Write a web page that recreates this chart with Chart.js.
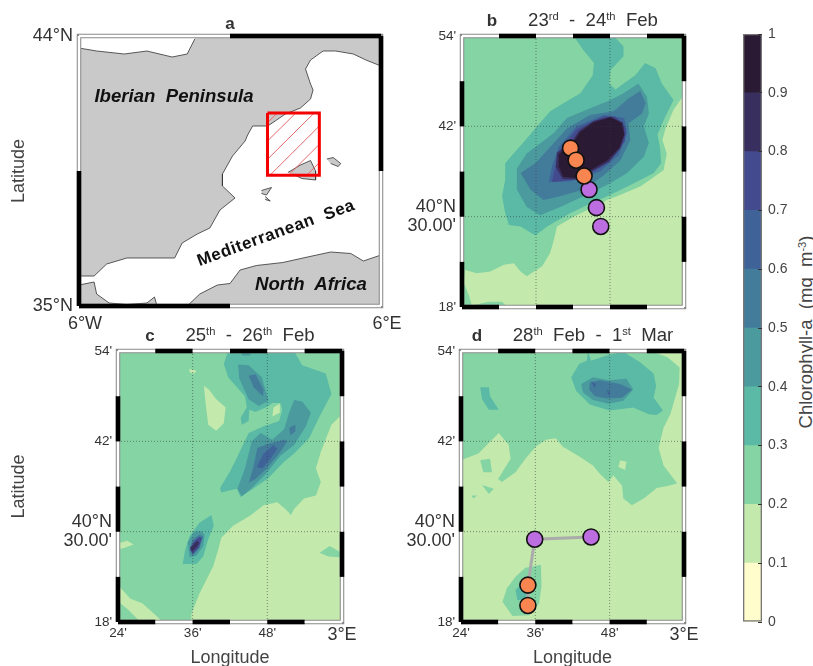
<!DOCTYPE html>
<html>
<head>
<meta charset="utf-8">
<title>Chlorophyll-a maps</title>
<script src="https://cdn.jsdelivr.net/npm/chart.js@4"></script>
<style>
    body { margin: 0; background: #fff; width: 813px; height: 666px; overflow: hidden; font-family: "Liberation Sans", Arial, sans-serif; }
    canvas { position: absolute; filter: blur(0.4px); }
    .txt { position: absolute; white-space: pre; transform: translate(-50%, -50%); color: #333; }
    .txt sup { font-size: 60%; line-height: 0; vertical-align: 0.55em; }
    .tag { font-weight: bold; font-size: 17px; }
    .ttl { font-size: 18.6px; }
    .place { font-weight: bold; font-style: italic; color: #111; }
</style>
</head>
<body>
<canvas id="mapA"></canvas>
<canvas id="mapB"></canvas>
<canvas id="mapC"></canvas>
<canvas id="mapD"></canvas>
<canvas id="scaleBar"></canvas>

<div class="txt tag" style="left:230px;top:24px">a</div>
<div class="txt tag" style="left:492px;top:21px">b</div>
<div class="txt ttl" style="left:593px;top:20px">23<sup>rd</sup>  -  24<sup>th</sup>  Feb</div>
<div class="txt tag" style="left:150px;top:336px">c</div>
<div class="txt ttl" style="left:250px;top:335px">25<sup>th</sup>  -  26<sup>th</sup>  Feb</div>
<div class="txt tag" style="left:477px;top:336px">d</div>
<div class="txt ttl" style="left:593px;top:335px">28<sup>th</sup>  Feb  -  1<sup>st</sup>  Mar</div>
<div class="txt place" style="left:174px;top:96px;font-size:18.6px">Iberian  Peninsula</div>
<div class="txt place" style="left:311px;top:284px;font-size:18.6px">North  Africa</div>
<div class="txt" style="left:276px;top:233px;font-weight:bold;font-size:17px;color:#111;letter-spacing:0.6px;transform:translate(-50%,-50%) rotate(-20deg)">Mediterranean  Sea</div>
<div class="txt" style="left:806px;top:332px;font-size:18.5px;color:#444;transform:translate(-50%,-50%) rotate(-90deg)">Chlorophyll-a  (mg  m<sup>-3</sup>)</div>

<script>
// chlorophyll classes, 0 to 1 in steps of 0.1
const levelEdges = [0, 0.1, 0.2, 0.3, 0.4, 0.5, 0.6, 0.7, 0.8, 0.9, 1];
const levelColors = ["#FFFDCB", "#C4E9AC", "#85D4A3", "#5ABAA5", "#4A9A9E", "#437C9B", "#3F6399", "#434A8E", "#392F5F", "#2B1A33"];
const scaleTicks = [0, 0.1, 0.2, 0.3, 0.4, 0.5, 0.6, 0.7, 0.8, 0.9, 1];

// axis stops, longitude and latitude
const aLonTicks = [-6, 6];
const aLatTicks = [35, 44];
const aLonStops = [-6, 0, 6];
const aLatStops = [35, 39.5, 44];
const lonTicks = [24, 36, 48, 60];
const latTicks = [18, 30, 42, 54];
const lonStops = [24, 30, 36, 42, 48, 54, 60];
const latStops = [18, 24, 30, 36, 42, 48, 54];
const gridLons = [36, 48];
const gridLats = [30, 42];

// panel a coastlines, degrees
const iberia = [[-1.4,44],[6,44],[6,43],[5.4,43.2],[4.9,43.4],[4.2,43.5],[3.7,43.5],[3.2,43.2],[3,42.9],[3.2,42.4],[3.3,42.2],[3.2,41.9],[2.8,41.6],[2.2,41.4],[1.5,41],[0.9,41],[0.7,40.7],[0.6,40.5],[0.1,40],[-0.3,39.4],[-0.3,39],[0.2,38.6],[-0.4,38.2],[-0.8,37.6],[-1.3,37.4],[-1.9,37.1],[-2.2,36.6],[-2.9,36.6],[-4.1,36.6],[-4.9,36.4],[-5.4,36],[-5.6,36],[-6,36],[-6,43.6],[-5.3,43.5],[-4.2,43.4],[-3.3,43.5],[-2.3,43.3],[-1.7,43.4],[-1.4,43.9]];
const africa = [[-6,35.7],[-5.4,35.8],[-5.3,35.4],[-4.8,35.1],[-4.1,35.05],[-3.3,35.1],[-3,35.3],[-2.9,35],[-1.7,35],[-1.2,35.4],[-0.5,35.7],[0,35.75],[0.4,36.2],[1.05,36.35],[2.1,36.45],[2.9,36.6],[4,36.8],[4.8,36.75],[5.3,36.5],[6,36.7],[6,35],[-6,35]];
const mallorca = [[2.3,39.45],[2.8,39.7],[3.2,39.85],[3.4,39.5],[3.4,39.2],[2.85,39.25],[2.5,39.4]];
const menorca = [[3.85,39.9],[4.1,39.95],[4.4,39.75],[4.3,39.65],[4,39.75]];
const ibiza = [[1.25,38.85],[1.65,38.95],[1.45,38.7],[1.25,38.75]];
const formentera = [[1.4,38.65],[1.6,38.5],[1.4,38.55]];
const studyBox = [[1.49,41.43],[3.55,41.43],[3.55,39.36],[1.49,39.36],[1.49,41.43]];
const hatchLines = [
    [[1.49,41.11],[1.88,41.43]],
    [[1.49,40.5],[2.61,41.43]],
    [[1.49,39.89],[3.34,41.43]],
    [[1.59,39.36],[3.55,41]],
    [[2.32,39.36],[3.55,40.39]],
    [[3.05,39.36],[3.55,39.78]]
];

// panel b contours, minutes of 2E and 40N
const bLight = [[60,46.2],[58.3,44.2],[57,41.7],[56.5,40.2],[57.2,38.4],[56.7,36.2],[54.5,34.9],[52.9,34],[49.7,32.9],[47.5,32.2],[44.8,31.1],[42.1,30],[39.4,28.7],[38.9,26.9],[38.3,25.2],[37,23.4],[34.5,22.1],[33.5,22.7],[32.4,23.8],[30.8,23.6],[28.6,22.7],[26.4,22.5],[24.5,22.9],[24.3,21.2],[25.1,19.6],[25.6,18.2],[28.3,18.7],[30.5,18.7],[31.3,18],[60,18]];
const bL3 = [[42.1,54],[43.7,52.1],[45.4,50.4],[45.2,48.8],[43.2,46.4],[40.5,45.1],[38.3,44],[36.4,42.2],[34.3,40.2],[32.9,38.9],[31,37.1],[31,34.9],[30.5,32.7],[31,30.5],[31.6,28.9],[33.5,28.7],[35.9,27.5],[37.8,28.7],[41.6,30.5],[44.8,31.7],[48.1,32.9],[51.8,34.4],[55.1,35.8],[56.3,37.1],[56.1,39.3],[55.7,40.9],[56.7,42.8],[58.3,45.5],[56.4,47.7],[55.4,49.7],[53.7,50.4],[52.1,48.8],[50.2,47.7],[48.9,46.9],[47.9,47.7],[48.1,49.5],[50.2,51.3],[50.2,52.6],[48.6,54]];
const bL4 = [[32.9,36.4],[34.5,38.4],[38.9,41.1],[41,43.1],[44.8,44.4],[48.1,45.5],[50.2,46.4],[52.6,47.7],[54,45.9],[54.3,43.7],[53.5,42],[54.3,39.8],[53.5,38],[50.8,35.8],[47.5,34.2],[43.7,32.7],[39.9,31.3],[36.7,30.2],[34.5,31.3],[32.9,33.6]];
const bL5 = [[33.5,35.8],[35.9,37.1],[38.9,39.8],[41,41.7],[44.8,43.5],[48.6,44],[51,45.7],[52.9,46.7],[53.8,45.1],[53.2,43.7],[51,42.4],[51.3,40.2],[49.7,37.5],[47,35.5],[43.7,33.6],[39.9,32.7],[37.2,32.2],[35.1,33.6]];
const bL6 = [[38.1,34.6],[38.6,36.7],[39.7,39.3],[42.6,42],[47,43.5],[50.3,43.1],[50.8,41.1],[49.4,38.2],[46.4,36],[41.6,34.7]];
const bL7 = [[38.6,34.6],[39,36.2],[39.7,38.6],[42.6,41.6],[47,43.3],[48.9,43.3],[50.6,41.7],[50.4,40],[47.8,37.2],[43.7,35.2],[40.2,34.7]];
const bL8 = [[39.2,36.6],[39.4,38.5],[41.9,40.1],[43,41.4],[45.3,42.7],[48.1,43.3],[50.1,42.5],[50.4,40.9],[49.7,39.1],[47.8,37.3],[45,36],[42.8,34.9],[40.3,35]];
const bL9 = [[39.6,36.8],[39.7,38.3],[42,39.8],[43.1,41.2],[45.3,42.5],[48.1,43.2],[49.9,42.4],[50.3,40.9],[49.5,39.2],[47.6,37.5],[44.9,36.2],[42.7,35.1],[40.4,35.3]];
const bOrangeLon = [41.6, 42.5, 43.8];
const bOrangeLat = [39.1, 37.5, 35.4];
const bPurpleLon = [44.6, 45.8, 46.5];
const bPurpleLat = [33.6, 31.2, 28.7];

// panel c contours
const cLight = [[60,45.6],[58.3,44.2],[56.6,40.6],[55.8,38.4],[56.6,36.6],[55.8,34.8],[53.9,34.4],[52.3,33],[51.8,32.2],[50.9,33],[49.6,33.9],[47.4,33.5],[45.2,32.1],[42.5,30.8],[40.6,29.2],[40.1,27.6],[39.3,25.4],[38.2,23.6],[37.1,21.8],[35.8,19.1],[35.8,18],[60,18]];
const cLightSw = [[24,22.9],[26,21.1],[27.9,20.5],[29.8,19.1],[31.2,18],[27.6,18],[25.7,19.6],[24.1,20.7]];
const cLightIsle = [[37.8,49.4],[38.6,48.9],[39.8,47.6],[41.3,46.5],[41,44.4],[39.8,43.4],[38.5,44.2],[38.1,46.9]];
const cLightDot = [[35.4,51.6],[36.6,51.4],[36.3,51],[35.6,51.1]];
const cLightWest = [[24.2,28.5],[25.5,28.8],[26.5,28.3],[25.2,27.9],[24.4,27.7]];
const cLightSpot = [[49,46.5],[50,47],[50,45.8],[48.8,45.3]];
const cGreenSliver = [[56.4,27.2],[58,28.1],[59.9,27.2],[59.6,26.6],[57.8,26.7]];
const cL3 = [[41.7,54],[52.3,54],[53.6,52.1],[57.4,51],[58.3,48.3],[56.4,45.3],[54.7,42.4],[52.3,40.4],[50.7,39.3],[48,37],[45,35.3],[43.7,34.6],[43.1,35.7],[40.6,35.2],[40.4,35.8],[42,38],[43.2,40],[45,43.1],[47.4,44],[49.9,44.7],[50.4,46.2],[50.1,47.1],[48.8,47.1],[48,46.6],[46.1,45.9],[45.1,46.2],[45,44.7],[43.9,44.2],[43.7,45.1],[44.7,46.5],[44.4,48],[41.7,50.5],[41,52.3]];
const cL3South = [[39,32.2],[39.4,30.8],[38.5,29],[37.7,26.7],[36.6,25.7],[34.4,25.7],[34.8,27.6],[35.5,29.4],[37.1,31.2]];
const cL4Top = [[43.3,52.2],[45,52.1],[47.1,50.5],[48.2,47.4],[46.6,46.7],[45,47.6],[43.5,50.3]];
const cL4Cap = [[43.6,54],[45.5,54],[45.2,53.4],[44,53.4]];
const cL4Mid = [[52.3,47.5],[53.6,47.3],[55,45.8],[54.2,44],[52.3,41.5],[50.1,40.1],[48,37.9],[45.5,35.8],[43.9,34.7],[43.2,35.7],[44.4,38.4],[45.5,42],[46.9,43.1],[48.8,42.2],[50.7,43.6],[51.5,45.8]];
const cL4South = [[37.4,30.1],[37.9,29.6],[37.7,28.1],[36.6,26.8],[35.5,26.6],[35.2,28.6],[36.3,30]];
const cL5Top = [[45,50.7],[46.1,50.9],[47.4,48.9],[47.3,48],[45.8,49.2]];
const cL5Mid = [[45,36.5],[45.7,38.4],[46.4,41.1],[47.9,41.6],[50.7,42.2],[51.2,42],[49.9,40.4],[47.9,38.4],[46.1,37]];
const cL5Spot = [[51.5,43.8],[52.5,44.2],[52.5,43.3],[51.7,42.8]];
const cL5South = [[37.1,29.6],[37.7,29.4],[37.1,27.8],[36,26.8],[35.5,27.6],[36,29]];
const cL6Mid = [[46.3,38.6],[47.4,40.4],[49,41.5],[49.6,41],[48.5,39.7],[47.2,38.4]];
const cL7South = [[37,29.3],[37.5,29.2],[37,27.9],[36,27],[35.6,27.7],[36.2,28.7]];
const cL8South = [[36.7,28.8],[37.1,28.5],[36.6,27.9],[35.9,27.3],[35.6,27.9],[36.1,28.3]];

// panel d contours
const dL2 = [[24,54],[54.5,54],[57.3,53.2],[59.3,51.8],[59.2,49.6],[57.8,45.6],[56.7,43.8],[55.9,41.1],[56.7,38.8],[58.9,36.4],[57.5,36.1],[55.6,35.8],[53.5,34.4],[51.6,33.5],[50.2,34.4],[50,36.1],[48.6,37.5],[47.8,36.6],[46.4,37.7],[45.3,38.8],[43.1,40],[40.4,41.3],[39.3,42.4],[37.7,42.2],[36.1,41.3],[34.4,39.7],[32.8,37.9],[30.6,36.6],[30,37],[32,39.7],[31.7,41.5],[30.1,43.1],[26.8,40.4],[24,39.5]];
const dLightHole = [[49.7,39.5],[50.7,39.3],[50.5,38.2],[49.4,38.6]];
const dIsle1 = [[27.1,39.5],[28.7,39.7],[29,37.9],[27.6,37.9]];
const dIsle2 = [[27.4,36.2],[29.3,35.7],[28.5,35]];
const dIsle3 = [[25.7,34.8],[26.6,34.8],[26,34.4]];
const dSouthL2 = [[34.4,25.2],[36.9,25.6],[37,22.7],[36.6,20.5],[35,18.9],[32.3,18.8],[30.7,20.7],[31.4,22.5],[32.8,24]];
const dSouthL3 = [[34.7,23.6],[32.8,22.3],[33.1,20.9],[34.7,21.1],[35.2,23.1]];
const dWestL3 = [[27.1,49.2],[28.5,49.2],[28.7,48],[30.1,46.2],[28.5,46.2],[27.4,47.6]];
const dL3 = [[44.5,54],[45,52.7],[47.5,53.4],[50.2,53.9],[52.9,52.5],[55.1,51],[55.5,49.4],[55.1,47.8],[56.6,46.1],[55.6,45.5],[54.3,45.6],[51.8,46.5],[48,46.1],[44.8,46.9],[42.6,48.7],[41.8,50.5],[43.1,52.3],[44.3,52.7]];
const dL4 = [[43.4,49.6],[45.3,50.5],[47.8,50.1],[50.7,50.3],[51.8,48.9],[50.2,47.4],[47.8,47],[45.3,47.5],[43.7,48.5]];
const dL5 = [[44.8,49.8],[46.4,50.1],[49.7,49.6],[51.6,48.9],[50,47.8],[47.5,47.7],[45.6,48],[44.7,48.9]];
const dL6a = [[45,50],[45.8,49.6],[45.6,49.1]];
const dL6b = [[47.5,48.9],[48.1,48.5],[47.8,48.1]];
const dTrackLon = [45, 35.9, 34.8, 34.8];
const dTrackLat = [29.3, 29, 22.9, 20.2];
const dOrangeLon = [34.8, 34.8];
const dOrangeLat = [22.9, 20.2];
const dPurpleLon = [35.9, 45];
const dPurpleLat = [29, 29.3];

const FONT = '"Liberation Sans", Arial, sans-serif';
const ORANGE = "#F98650";
const PURPLE = "#BC6DE0";

function toPoints(pairs) {
    return pairs.map(p => ({ x: p[0], y: p[1] }));
}

function zip(lons, lats) {
    return lons.map((lon, i) => ({ x: lon, y: lats[i] }));
}

function lineSet(points, color, width, extra) {
    return Object.assign({
        data: points, showLine: true, fill: false, borderColor: color, borderWidth: width,
        pointRadius: 0, borderCapStyle: 'butt', tension: 0
    }, extra || {});
}

function areaSet(pairs, color, edge, edgeWidth) {
    return {
        data: toPoints(pairs), showLine: true, fill: 'shape', backgroundColor: color,
        borderColor: edge || color, borderWidth: edgeWidth || 0, pointRadius: 0, tension: 0
    };
}

function level(i, pairs) {
    return areaSet(pairs, levelColors[i]);
}

function markerSet(points, color) {
    return {
        data: points, showLine: false, pointRadius: 8, pointBorderWidth: 1.6,
        pointBackgroundColor: color, pointBorderColor: '#111', clip: false
    };
}

// the black and white border of the map
function frameSets(lons, lats) {
    const minX = lons[0], maxX = lons[lons.length - 1];
    const minY = lats[0], maxY = lats[lats.length - 1];
    const sets = [lineSet([{x:minX,y:minY},{x:maxX,y:minY},{x:maxX,y:maxY},{x:minX,y:maxY},{x:minX,y:minY}], '#8a8a8a', 4.5, { clip: false })];
    for (let i = 0; i < lons.length - 1; i++) {
        [[minY, 0], [maxY, 1]].forEach(([y, phase]) => {
            const black = (i + phase) % 2 === 0;
            sets.push(lineSet([{x:lons[i],y},{x:lons[i+1],y}], black ? '#000' : '#fff', black ? 4.5 : 2.4, { clip: false }));
        });
    }
    for (let i = 0; i < lats.length - 1; i++) {
        [[minX, 0], [maxX, 1]].forEach(([x, phase]) => {
            const black = (i + phase) % 2 === 0;
            sets.push(lineSet([{x,y:lats[i]},{x,y:lats[i+1]}], black ? '#000' : '#fff', black ? 4.5 : 2.4, { clip: false }));
        });
    }
    return sets;
}

function gridSets() {
    const sets = [];
    gridLons.forEach(x => sets.push(lineSet([{x,y:18},{x,y:54}], 'rgba(50,60,60,0.7)', 0.8, { borderDash: [1, 2] })));
    gridLats.forEach(y => sets.push(lineSet([{x:24,y},{x:60,y}], 'rgba(50,60,60,0.7)', 0.8, { borderDash: [1, 2] })));
    return sets;
}

function lonLabel(v) {
    if (v === -6) return '6°W';
    if (v === 6) return '6°E';
    if (v === 60) return '3°E';
    return v + "'";
}

function latLabel(v) {
    if (v === 35 || v === 44) return v + '°N';
    if (v === 30) return ['40°N', "30.00'"];
    return v + "'";
}

function isBig(v) {
    return v === 30 || v === 60 || v === -6 || v === 6 || v === 35 || v === 44;
}

function tickFont(ctx) {
    const big = ctx.tick && isBig(ctx.tick.value);
    return { family: FONT, size: big ? 18 : 13.5, lineHeight: 1.05 };
}

function drawPanel(id, box, sets, xt, yt, xr, yr, opts) {
    const canvas = document.getElementById(id);
    const leftRoom = box.left - box.canvasLeft;
    const bottomRoom = 669 - (box.top + box.height);
    canvas.style.left = box.canvasLeft + 'px';
    canvas.style.top = (box.top - 12) + 'px';
    canvas.width = leftRoom + box.width + 30;
    canvas.height = box.height + 12 + bottomRoom;

    sets.forEach((s, i) => { s.order = sets.length - i; });

    return new Chart(canvas, {
        type: 'scatter',
        data: { datasets: sets },
        options: {
            responsive: false,
            animation: false,
            layout: { padding: { top: 12, right: 30, left: 0, bottom: 0 } },
            plugins: { legend: { display: false }, tooltip: { enabled: false } },
            scales: {
                x: {
                    type: 'linear', min: xr[0], max: xr[1],
                    grid: { display: false, drawTicks: false }, border: { display: false },
                    afterBuildTicks: s => { s.ticks = xt.map(v => ({ value: v })); },
                    afterFit: s => { s.height = bottomRoom; s.paddingLeft = 0; s.paddingRight = 0; },
                    ticks: {
                        display: opts.xLabels, autoSkip: false, maxRotation: 0, color: '#333',
                        padding: opts.xPad, labelOffset: opts.xOffset,
                        font: tickFont, callback: lonLabel
                    },
                    title: { display: !!opts.xTitle, text: 'Longitude', color: '#444', padding: 0, font: { family: FONT, size: 18 } }
                },
                y: {
                    type: 'linear', min: yr[0], max: yr[1],
                    grid: { display: false, drawTicks: false }, border: { display: false },
                    afterBuildTicks: s => { s.ticks = yt.map(v => ({ value: v })); },
                    afterFit: s => { s.width = leftRoom; s.paddingTop = 0; s.paddingBottom = 0; },
                    ticks: {
                        autoSkip: false, color: '#333', padding: 6,
                        font: tickFont, callback: latLabel
                    },
                    title: { display: !!opts.yTitle, text: 'Latitude', color: '#444', padding: 8, font: { family: FONT, size: 18 } }
                }
            }
        }
    });
}

const landGrey = '#C9C9C9';
const coast = '#333';
const setsA = [
    areaSet(iberia, landGrey, coast, 0.8),
    areaSet(africa, landGrey, coast, 0.8),
    areaSet(mallorca, landGrey, coast, 0.8),
    areaSet(menorca, landGrey, coast, 0.8),
    areaSet(ibiza, landGrey, coast, 0.8),
    areaSet(formentera, landGrey, coast, 0.8)
]
    .concat(hatchLines.map(h => lineSet(toPoints(h), '#E86A6A', 1)))
    .concat([lineSet(toPoints(studyBox), '#F40000', 3, { borderJoinStyle: 'miter' })])
    .concat(frameSets(aLonStops, aLatStops));

const rect = [[24,18],[60,18],[60,54],[24,54]];

const setsB = [
    level(2, rect), level(1, bLight), level(3, bL3), level(4, bL4), level(5, bL5),
    level(6, bL6), level(7, bL7), level(8, bL8), level(9, bL9)
]
    .concat(gridSets())
    .concat(frameSets(lonStops, latStops))
    .concat([
        markerSet(zip(bPurpleLon, bPurpleLat), PURPLE),
        markerSet(zip(bOrangeLon, bOrangeLat), ORANGE)
    ]);

const setsC = [
    level(2, rect), level(1, cLight), level(1, cLightSw), level(1, cLightIsle), level(1, cLightDot),
    level(1, cLightWest), level(2, cGreenSliver),
    level(3, cL3), level(1, cLightSpot), level(3, cL3South),
    level(4, cL4Top), level(4, cL4Cap), level(4, cL4Mid), level(4, cL4South),
    level(5, cL5Top), level(5, cL5Mid), level(5, cL5Spot), level(5, cL5South),
    level(6, cL6Mid), level(7, cL7South), level(8, cL8South)
]
    .concat(gridSets())
    .concat(frameSets(lonStops, latStops));

const setsD = [
    level(1, rect), level(2, dL2), level(1, dLightHole), level(2, dIsle1), level(2, dIsle2), level(2, dIsle3),
    level(2, dSouthL2), level(3, dSouthL3), level(3, dWestL3),
    level(3, dL3), level(4, dL4), level(5, dL5), level(6, dL6a), level(6, dL6b)
]
    .concat(gridSets())
    .concat(frameSets(lonStops, latStops))
    .concat([
        lineSet(zip(dTrackLon, dTrackLat), '#ABABAB', 3),
        markerSet(zip(dPurpleLon, dPurpleLat), PURPLE),
        markerSet(zip(dOrangeLon, dOrangeLat), ORANGE)
    ]);

drawPanel('mapA', { canvasLeft: 0, left: 79, top: 36, width: 302, height: 270 }, setsA,
    aLonTicks, aLatTicks, [-6, 6], [35, 44], { xLabels: true, xPad: 9, xOffset: 6, yTitle: true });
drawPanel('mapB', { canvasLeft: 395, left: 462, top: 36, width: 222, height: 271 }, setsB,
    lonTicks, latTicks, [24, 60], [18, 54], { xLabels: false, xPad: 4, xOffset: 0 });
drawPanel('mapC', { canvasLeft: 0, left: 118, top: 351, width: 224, height: 271 }, setsC,
    lonTicks, latTicks, [24, 60], [18, 54], { xLabels: true, xPad: 4, xOffset: 0, xTitle: true, yTitle: true });
drawPanel('mapD', { canvasLeft: 395, left: 461, top: 351, width: 223, height: 271 }, setsD,
    lonTicks, latTicks, [24, 60], [18, 54], { xLabels: true, xPad: 4, xOffset: 0, xTitle: true });

// colour bar
const barCanvas = document.getElementById('scaleBar');
barCanvas.style.left = '733px';
barCanvas.style.top = '20px';
barCanvas.width = 60;
barCanvas.height = 616;

const barSets = levelColors.map((c, i) => ({
    data: [[levelEdges[i], levelEdges[i + 1]]],
    backgroundColor: c, borderWidth: 0, barPercentage: 1, categoryPercentage: 1, grouped: false
}));
barSets.unshift({
    data: [[0, 1]], backgroundColor: 'rgba(0,0,0,0)', borderColor: '#777', borderWidth: 1,
    borderSkipped: false, barPercentage: 1, categoryPercentage: 1, grouped: false
});

new Chart(barCanvas, {
    type: 'bar',
    data: { labels: [''], datasets: barSets },
    options: {
        responsive: false,
        animation: false,
        layout: { padding: { top: 14, bottom: 14, left: 10, right: 0 } },
        plugins: { legend: { display: false }, tooltip: { enabled: false } },
        scales: {
            x: { display: false },
            y: {
                position: 'right', min: 0, max: 1,
                afterBuildTicks: s => { s.ticks = scaleTicks.map(v => ({ value: v })); },
                afterFit: s => { s.width = 31; s.paddingTop = 0; s.paddingBottom = 0; },
                grid: { drawOnChartArea: false, tickLength: -4, color: '#333', z: 1 },
                border: { display: false },
                ticks: { color: '#444', padding: 10, font: { family: FONT, size: 14 }, callback: v => String(v) }
            }
        }
    }
});
</script>
</body>
</html>
